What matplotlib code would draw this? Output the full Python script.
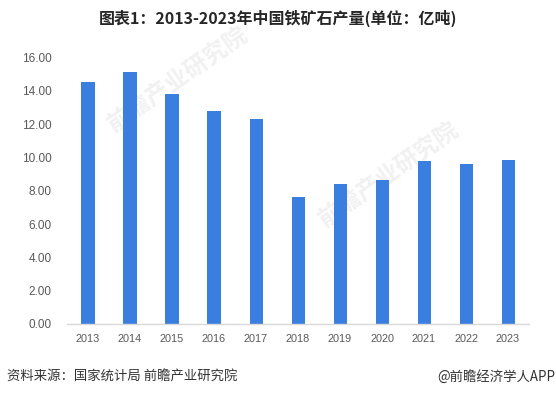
import matplotlib
matplotlib.use("Agg")
import matplotlib.pyplot as plt

plt.rcParams['font.family'] = ['Noto Sans CJK SC', 'DejaVu Sans']

# data (亿吨)
years = ['2013', '2014', '2015', '2016', '2017', '2018',
         '2019', '2020', '2021', '2022', '2023']
output = [14.51, 15.14, 13.81, 12.78, 12.29, 7.63, 8.42, 8.67, 9.81, 9.63, 9.86]
yticks = [0, 2, 4, 6, 8, 10, 12, 14, 16]

title = '图表1：2013-2023年中国铁矿石产量(单位：亿吨)'
source = '资料来源：国家统计局 前瞻产业研究院'
credit = '@前瞻经济学人APP'

bar_color = '#3A7FE0'
tick_color = '#595959'

fig = plt.figure(figsize=(5.56, 3.97), dpi=100)
ax = fig.add_axes([0.1205, 0.184, 0.831, 0.671])
ax.set_facecolor('none')

x = range(len(years))
ax.bar(x, output, width=0.31, color=bar_color, zorder=2)

ax.set_xlim(-0.5, len(years) - 0.5)
ax.set_ylim(0, 16)
ax.set_yticks(yticks)
ax.set_yticklabels(['%.2f' % v for v in yticks], fontsize=8.5,
                   color=tick_color, family=['Liberation Sans', 'DejaVu Sans'])
ax.set_xticks(list(x))
ax.set_xticklabels(years, fontsize=7.8, color=tick_color,
                   family=['Liberation Sans', 'DejaVu Sans'])
ax.tick_params(axis='both', length=0)
ax.tick_params(axis='y', pad=11)
ax.tick_params(axis='x', pad=7)

for side in ['top', 'right', 'left']:
    ax.spines[side].set_visible(False)
ax.spines['bottom'].set_color('#d9d9d9')
ax.spines['bottom'].set_linewidth(1.0)

# faint watermarks behind the bars
wm = dict(color='#f1f1f1', fontsize=17, rotation=35, ha='center', va='center',
          fontweight='bold', zorder=-1)
fig.text(0.32, 0.80, '前瞻产业研究院', **wm)
fig.text(0.70, 0.56, '前瞻产业研究院', **wm)

fig.text(0.5, 0.955, title, ha='center', va='center', fontsize=11.5,
         fontweight='bold', color='#262626')
fig.text(0.013, 0.05, source, ha='left', va='center', fontsize=9.6,
         color='#333333')
fig.text(0.998, 0.05, credit, ha='right', va='center', fontsize=9.6,
         color='#333333')

fig.savefig('out.png', dpi=100)
